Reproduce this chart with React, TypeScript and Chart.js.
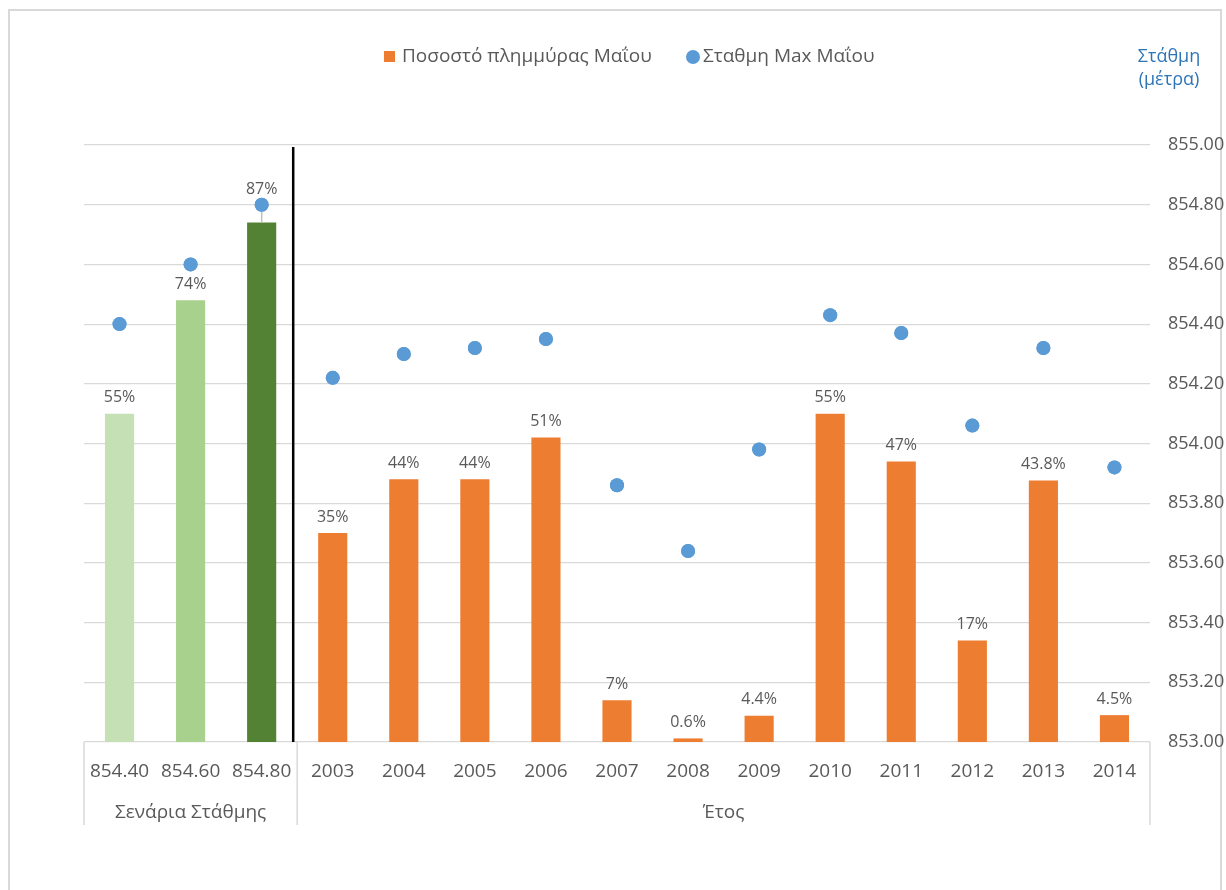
import React, { useEffect, useRef } from "react";
import { Chart, registerables } from "chart.js";

Chart.register(...registerables);

const categories = ["854.40", "854.60", "854.80", "2003", "2004", "2005", "2006", "2007", "2008", "2009", "2010", "2011", "2012", "2013", "2014"];
const floodPct = [55, 74, 87, 35, 44, 44, 51, 7, 0.6, 4.4, 55, 47, 17, 43.8, 4.5];
const floodLabels = ["55%", "74%", "87%", "35%", "44%", "44%", "51%", "7%", "0.6%", "4.4%", "55%", "47%", "17%", "43.8%", "4.5%"];
const maxLevel = [854.4, 854.6, 854.8, 854.22, 854.3, 854.32, 854.35, 853.86, 853.64, 853.98, 854.43, 854.37, 854.06, 854.32, 853.92];
const barColors = ["#C5E0B4", "#A9D18E", "#548235", "#ED7D31", "#ED7D31", "#ED7D31", "#ED7D31", "#ED7D31", "#ED7D31", "#ED7D31", "#ED7D31", "#ED7D31", "#ED7D31", "#ED7D31", "#ED7D31"];
const groups = [
  { label: "Σενάρια Στάθμης", from: 0, to: 2 },
  { label: "Έτος", from: 3, to: 14 },
];
const seriesNames = ["Ποσοστό πλημμύρας Μαΐου", "Σταθμη Max Μαΐου"];
const axisTitle = ["Στάθμη", "(μέτρα)"];

const FONT = "'Open Sans', 'Noto Sans', sans-serif";
const GREY = "#595959";
const GRID = "#D9D9D9";

const overlayPlugin = {
  id: "overlay",
  afterDatasetsDraw(chart: any) {
    const ctx = chart.ctx;
    const area = chart.chartArea;
    const x = chart.scales.x;
    const barMeta = chart.getDatasetMeta(0);
    const ptMeta = chart.getDatasetMeta(1);
    ctx.save();
    // data labels
    ctx.font = `16px ${FONT}`;
    ctx.fillStyle = GREY;
    ctx.textAlign = "center";
    ctx.textBaseline = "middle";
    barMeta.data.forEach((bar: any, i: number) => {
      const pt = ptMeta.data[i];
      let ly = bar.y - 16;
      const gap = bar.y - pt.y;
      if (gap > 0 && gap < 28) {
        ctx.strokeStyle = "#BFBFBF";
        ctx.lineWidth = 1.5;
        ctx.beginPath();
        ctx.moveTo(bar.x, bar.y);
        ctx.lineTo(bar.x, pt.y);
        ctx.stroke();
        ly = pt.y - 15;
      }
      ctx.fillText(floodLabels[i], bar.x, ly);
    });
    // redraw the point that got covered by leader line
    ptMeta.data.forEach((p: any) => p.draw(ctx, area));
    // black divider line between scenarios and years
    const boundary = (x.getPixelForValue(groups[0].to) + x.getPixelForValue(groups[1].from)) / 2 - 4;
    ctx.strokeStyle = "#000000";
    ctx.lineWidth = 2.5;
    ctx.beginPath();
    ctx.moveTo(boundary, area.top + 2);
    ctx.lineTo(boundary, area.bottom);
    ctx.stroke();
    ctx.restore();
  },
  afterDraw(chart: any) {
    const ctx = chart.ctx;
    const area = chart.chartArea;
    const x = chart.scales.x;
    const half = (x.getPixelForValue(1) - x.getPixelForValue(0)) / 2;
    ctx.save();
    // category group separators
    ctx.strokeStyle = GRID;
    ctx.lineWidth = 1.5;
    const seps = [x.getPixelForValue(0) - half, x.getPixelForValue(groups[0].to) + half, x.getPixelForValue(groups[1].to) + half];
    seps.forEach((sx) => {
      ctx.beginPath();
      ctx.moveTo(sx, area.bottom);
      ctx.lineTo(sx, area.bottom + 83);
      ctx.stroke();
    });
    // group labels
    ctx.font = `19px ${FONT}`;
    ctx.fillStyle = GREY;
    ctx.textAlign = "center";
    ctx.textBaseline = "middle";
    groups.forEach((g) => {
      const cx = (x.getPixelForValue(g.from) + x.getPixelForValue(g.to)) / 2;
      ctx.fillText(g.label, cx, area.bottom + 71);
    });
    // legend
    ctx.font = `19px ${FONT}`;
    ctx.textAlign = "left";
    const ly = 57;
    ctx.fillStyle = "#ED7D31";
    ctx.fillRect(384, ly - 6, 11, 11);
    ctx.fillStyle = GREY;
    ctx.fillText(seriesNames[0], 402, ly);
    ctx.fillStyle = "#5B9BD5";
    ctx.beginPath();
    ctx.arc(693, ly, 7, 0, Math.PI * 2);
    ctx.fill();
    ctx.fillStyle = GREY;
    ctx.fillText(seriesNames[1], 703, ly);
    // right axis title
    ctx.font = `18px ${FONT}`;
    ctx.fillStyle = "#2E75B6";
    ctx.textAlign = "center";
    ctx.fillText(axisTitle[0], 1169, 57);
    ctx.fillText(axisTitle[1], 1169, 80);
    ctx.restore();
  },
};

export default function App() {
  const ref = useRef<HTMLCanvasElement | null>(null);
  useEffect(() => {
    if (!ref.current) return;
    const chart = new Chart(ref.current, {
      data: {
        labels: categories,
        datasets: [
          {
            type: "bar",
            label: seriesNames[0],
            data: floodPct,
            backgroundColor: barColors,
            yAxisID: "yPct",
            barPercentage: 0.41,
            categoryPercentage: 1,
            order: 2,
          },
          {
            type: "line",
            label: seriesNames[1],
            data: maxLevel,
            showLine: false,
            pointRadius: 7,
            pointHoverRadius: 7,
            pointBackgroundColor: "#5B9BD5",
            pointBorderColor: "#5B9BD5",
            pointBorderWidth: 0,
            yAxisID: "y",
            order: 1,
          },
        ] as any,
      },
      options: {
        animation: false,
        responsive: false,
        maintainAspectRatio: false,
        layout: { padding: { left: 84, top: 145, right: 0, bottom: 0 } },
        plugins: { legend: { display: false }, tooltip: { enabled: false } },
        scales: {
          x: {
            type: "category",
            offset: true,
            grid: { display: false, drawTicks: false },
            border: { display: false },
            ticks: { color: GREY, font: { size: 19, family: FONT }, padding: 18, maxRotation: 0, autoSkip: false },
            afterFit: (s: any) => {
              s.height = 148;
            },
          },
          yPct: {
            type: "linear",
            position: "left",
            display: false,
            min: 0,
            max: 100,
          },
          y: {
            type: "linear",
            position: "right",
            min: 853,
            max: 855,
            grid: { color: GRID, lineWidth: 1.2, drawTicks: false },
            border: { display: false },
            ticks: {
              stepSize: 0.2,
              color: GREY,
              font: { size: 18, family: FONT },
              padding: 18,
              callback: (v: any) => Number(v).toFixed(2),
            },
            afterFit: (s: any) => {
              s.width = 76;
            },
          },
        },
      } as any,
      plugins: [overlayPlugin],
    });
    return () => chart.destroy();
  }, []);

  return (
    <div style={{ position: "fixed", left: 0, top: 0, width: 1226, height: 890, background: "#fff", overflow: "hidden" }}>
      <div style={{ position: "absolute", left: 8, top: 9, width: 1214, height: 900, border: "2px solid #D9D9D9", boxSizing: "border-box" }} />
      <canvas ref={ref} width={1226} height={890} style={{ position: "absolute", left: 0, top: 0, width: 1226, height: 890 }} />
    </div>
  );
}
